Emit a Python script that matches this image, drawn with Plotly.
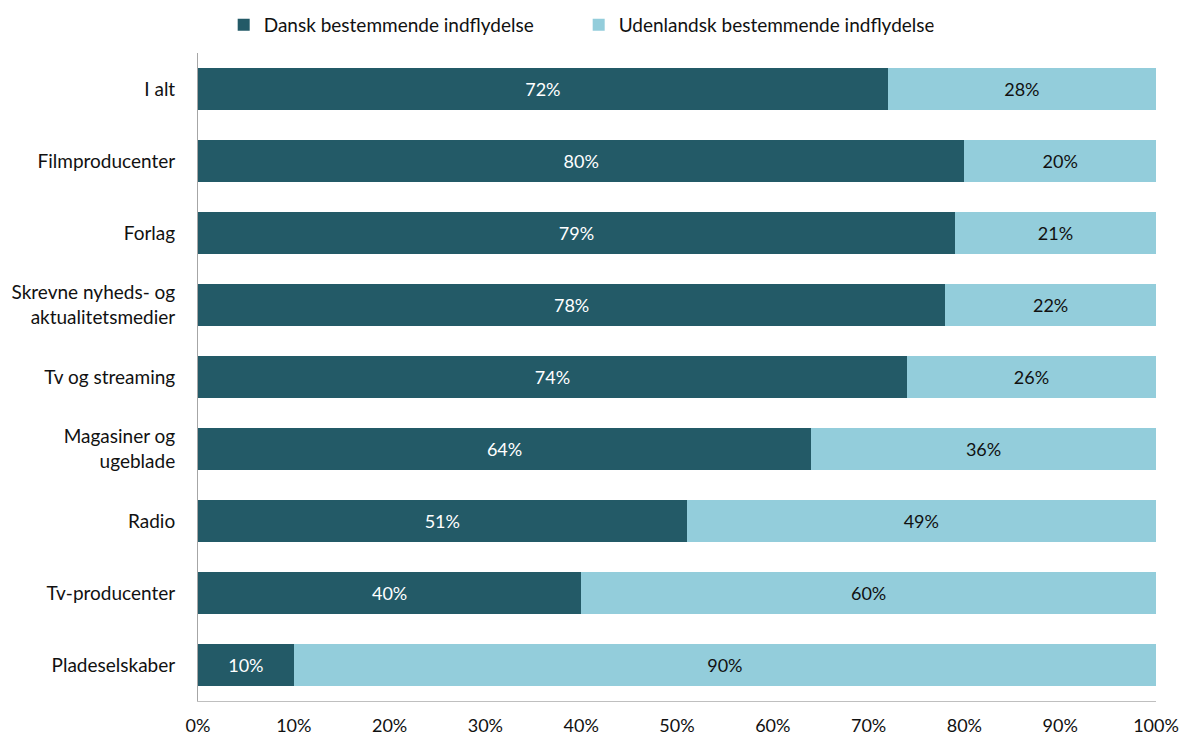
import plotly.graph_objects as go

# Share of companies by type of decisive influence, per media sector (%)
categories = [
    "I alt",
    "Filmproducenter",
    "Forlag",
    "Skrevne nyheds- og<br>aktualitetsmedier",
    "Tv og streaming",
    "Magasiner og<br>ugeblade",
    "Radio",
    "Tv-producenter",
    "Pladeselskaber",
]
dansk = [72, 80, 79, 78, 74, 64, 51, 40, 10]
udenlandsk = [28, 20, 21, 22, 26, 36, 49, 60, 90]
x_ticks = [0, 10, 20, 30, 40, 50, 60, 70, 80, 90, 100]

DARK = "#235A67"
LIGHT = "#93CDDB"
FONT = "Lato, Open Sans, sans-serif"
TEXT = "#111111"

fig = go.Figure()
fig.add_trace(go.Bar(
    name="Dansk bestemmende indflydelse",
    y=categories, x=dansk, orientation="h",
    marker=dict(color=DARK, line=dict(width=0)),
    text=[f"{v}%" for v in dansk], textposition="inside",
    insidetextanchor="middle",
    textfont=dict(color="white", size=18, family=FONT),
))
fig.add_trace(go.Bar(
    name="Udenlandsk bestemmende indflydelse",
    y=categories, x=udenlandsk, orientation="h",
    marker=dict(color=LIGHT, line=dict(width=0)),
    text=[f"{v}%" for v in udenlandsk], textposition="inside",
    insidetextanchor="middle",
    textfont=dict(color=TEXT, size=18, family=FONT),
))

fig.update_layout(
    barmode="stack",
    bargap=0.43,
    width=1181, height=736,
    margin=dict(l=198, r=25, t=53, b=35, autoexpand=False),
    paper_bgcolor="white", plot_bgcolor="white",
    font=dict(family=FONT, size=19, color=TEXT),
    legend=dict(
        orientation="h", xref="container", yref="container",
        x=0.49, xanchor="center", y=0.992, yanchor="top",
        font=dict(size=19, color=TEXT),
        itemwidth=30, traceorder="normal",
        entrywidth=310,
    ),
    xaxis=dict(
        range=[0, 100], tickvals=x_ticks,
        ticktext=[f"{t}%" for t in x_ticks],
        showgrid=False, zeroline=False, automargin=False,
        showline=True, linecolor="#BFBFBF", linewidth=1,
        ticks="", ticklabelstandoff=8,
        tickfont=dict(size=18, color=TEXT),
    ),
    yaxis=dict(
        autorange="reversed", showgrid=False, zeroline=False,
        automargin=False,
        showline=True, linecolor="#A6A6A6", linewidth=1,
        ticks="", ticklabelstandoff=18,
        tickfont=dict(size=19, color=TEXT),
    ),
)

fig.write_html("out.html")
